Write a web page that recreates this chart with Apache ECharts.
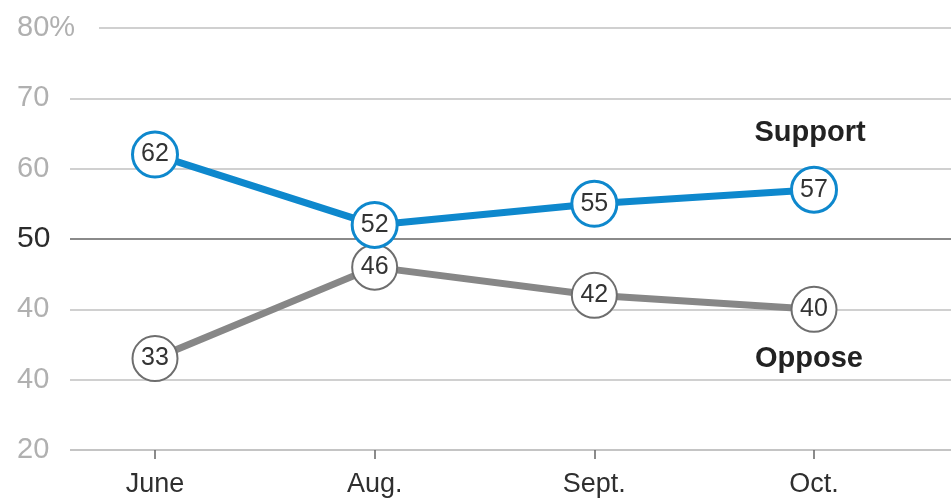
<!DOCTYPE html>
<html>
<head>
<meta charset="utf-8">
<script src="https://cdn.jsdelivr.net/npm/echarts@6/dist/echarts.min.js"></script>
<style>
html,body{margin:0;padding:0;background:#fff;}
#chart{width:951px;height:503px;}
</style>
</head>
<body>
<div id="chart"></div>
<script>
const months = ['June', 'Aug.', 'Sept.', 'Oct.'];
const support = [62, 52, 55, 57];
const oppose = [33, 46, 42, 40];
const yTickLabels = ['20', '40', '40', '50', '60', '70', '80%'];
const seriesNames = ['Support', 'Oppose'];

const FONT = '"Liberation Sans", Arial, sans-serif';
const BLUE = '#0e88cd';
const GRAY = '#878787';

const chart = echarts.init(document.getElementById('chart'));
const yMin = 20, yMax = 80, yStep = 10;

chart.setOption({
  animation: false,
  backgroundColor: '#fff',
  textStyle: { fontFamily: FONT },
  grid: [
    { left: 70, right: 0, top: 28, bottom: 53 },
    { left: 155, right: 137, top: 28, bottom: 53 }
  ],
  xAxis: [
    { gridIndex: 0, type: 'value', min: 0, max: 1, show: false },
    {
      gridIndex: 1, type: 'category', data: months, boundaryGap: false,
      axisLine: { show: false },
      axisTick: { show: true, length: 9, lineStyle: { color: '#666', width: 1.5 } },
      axisLabel: { color: '#2f2f2f', fontSize: 27, margin: 21, fontFamily: FONT },
      splitLine: { show: false }
    }
  ],
  yAxis: [
    {
      gridIndex: 0, type: 'value', min: yMin, max: yMax, interval: yStep,
      axisLine: { show: false }, axisTick: { show: false },
      axisLabel: {
        align: 'left', margin: 53, fontSize: 29, color: '#b0b0b0', fontFamily: FONT,
        formatter: function (v) {
          const i = Math.round((v - yMin) / yStep);
          const t = yTickLabels[i];
          if (v === 50) return '{dark|' + t + '}';
          if (v === yMax) return '{top|' + t + '}';
          return t;
        },
        rich: {
          dark: { color: '#2b2b2b', fontSize: 30, fontFamily: FONT },
          top: { color: '#b0b0b0', fontSize: 29, fontFamily: FONT, backgroundColor: '#fff', padding: [2, 24, 2, 0] }
        }
      },
      splitLine: {
        show: true,
        lineStyle: {
          color: ['#c4c4c4', '#d0d0d0', '#d0d0d0', '#8a8a8a', '#d0d0d0', '#d0d0d0', '#d0d0d0'],
          width: 2
        }
      }
    },
    { gridIndex: 1, type: 'value', min: yMin, max: yMax, interval: yStep, show: false, splitLine: { show: false } }
  ],
  series: [
    {
      name: seriesNames[1], type: 'line', xAxisIndex: 1, yAxisIndex: 1, data: oppose, z: 3,
      symbol: 'circle', symbolSize: 45,
      lineStyle: { color: GRAY, width: 7 },
      itemStyle: { color: '#fff', borderColor: '#6e6e6e', borderWidth: 2 },
      label: { show: true, position: 'inside', color: '#333', fontSize: 25, fontFamily: FONT },
      markPoint: {
        symbol: 'circle', symbolSize: 1, itemStyle: { color: 'transparent' },
        label: { show: true, formatter: seriesNames[1], color: '#222', fontSize: 29, fontWeight: 'bold', fontFamily: FONT, offset: [-5, 50] },
        data: [{ coord: [months[3], oppose[3]] }]
      }
    },
    {
      name: seriesNames[0], type: 'line', xAxisIndex: 1, yAxisIndex: 1, data: support, z: 4,
      symbol: 'circle', symbolSize: 45,
      lineStyle: { color: BLUE, width: 7 },
      itemStyle: { color: '#fff', borderColor: BLUE, borderWidth: 3 },
      label: { show: true, position: 'inside', color: '#333', fontSize: 25, fontFamily: FONT },
      markPoint: {
        symbol: 'circle', symbolSize: 1, itemStyle: { color: 'transparent' },
        label: { show: true, formatter: seriesNames[0], color: '#222', fontSize: 29, fontWeight: 'bold', fontFamily: FONT, offset: [-4, -57] },
        data: [{ coord: [months[3], support[3]] }]
      }
    }
  ]
});
</script>
</body>
</html>
